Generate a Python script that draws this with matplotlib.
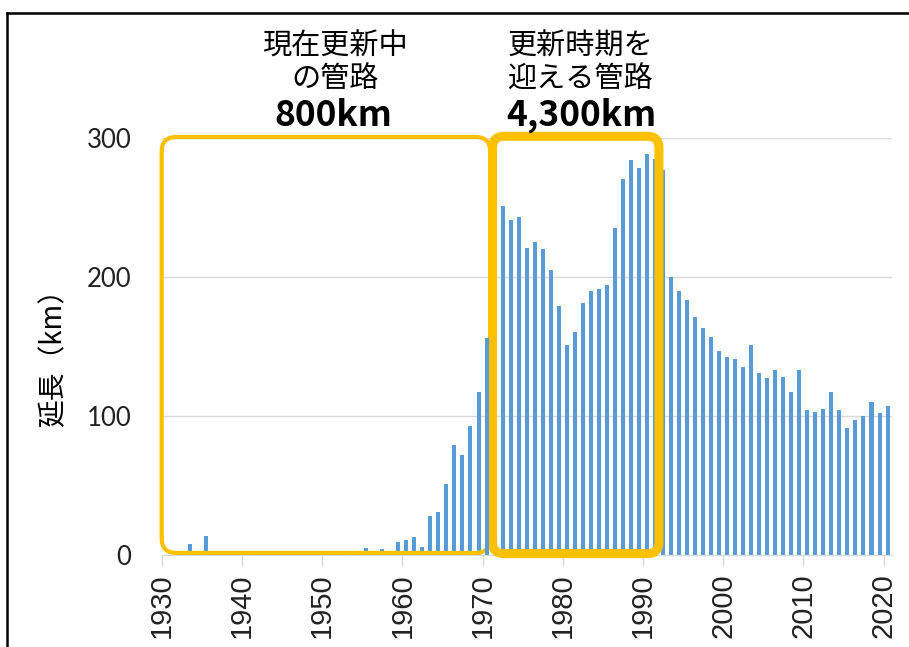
import matplotlib.pyplot as plt
import matplotlib.patches as patches
from matplotlib.lines import Line2D
import numpy as np

plt.rcParams['font.family'] = ['Noto Sans CJK JP', 'DejaVu Sans']

# pipe length installed per year (km)
years = np.arange(1930, 2021)
lengths = [
    0, 0, 0, 8, 0, 14, 0, 0, 0, 0,            # 1930-1939
    0, 0, 0, 0, 0, 0, 0, 0, 0, 0,             # 1940-1949
    0, 0, 0, 1, 0, 5, 1.5, 4, 1, 9,           # 1950-1959
    11, 13, 6, 28, 31, 51, 79, 72, 93, 117,   # 1960-1969
    156, 190, 251, 241, 243, 221, 225, 220, 205, 179,  # 1970-1979
    151, 160, 181, 190, 191, 194, 235, 270, 284, 278,  # 1980-1989
    288, 285, 277, 200, 190, 183, 171, 163, 157, 147,  # 1990-1999
    142, 141, 135, 151, 131, 127, 133, 128, 117, 133,  # 2000-2009
    104, 103, 105, 117, 104, 91, 97, 100, 110, 102,    # 2010-2019
    107,                                               # 2020
]
xticks = list(range(1930, 2021, 10))
yticks = [0, 100, 200, 300]

# highlighted periods (year span)
left_span = (1930, 1970.95)
right_span = (1971.25, 1992.0)

fig = plt.figure(figsize=(9.09, 6.47), dpi=100)
ax = fig.add_axes([0.1779, 0.1422, 0.8029, 0.645])

ax.bar(years + 0.5, lengths, width=0.5, color='#5B9BD5', zorder=2)

ax.set_xlim(1930, 2021)
ax.set_ylim(0, 300)
ax.set_xticks(xticks)
ax.set_xticklabels([str(t) for t in xticks], rotation=90,
                   fontsize=21, family='Liberation Sans', color='#222222')
ax.set_yticks(yticks)
ax.set_yticklabels([str(t) for t in yticks], fontsize=18.5, family='Lato',
                   color='#222222')
ax.tick_params(axis='y', length=0, pad=22)
ax.tick_params(axis='x', length=8, width=1, color='#D9D9D9', pad=5)
ax.grid(axis='y', color='#D9D9D9', lw=1, zorder=0)
for s in ['left', 'right', 'top']:
    ax.spines[s].set_visible(False)
ax.spines['bottom'].set_color('#D9D9D9')

ax.set_ylabel('延長（km）', fontsize=20)
ax.yaxis.set_label_coords(-0.128, 0.49)

# yellow rounded boxes
aspect = 8.02 / 1.39
box1 = patches.FancyBboxPatch((left_span[0], 1.5), left_span[1] - left_span[0], 299,
                              boxstyle='round,pad=0,rounding_size=1.8',
                              mutation_aspect=aspect, fill=False,
                              edgecolor='#FFC000', lw=3, clip_on=False, zorder=3)
box2 = patches.FancyBboxPatch((right_span[0], 1), right_span[1] - right_span[0], 300,
                              boxstyle='round,pad=0,rounding_size=1.4',
                              mutation_aspect=aspect, fill=False,
                              edgecolor='#FFC000', lw=6.5, clip_on=False, zorder=3)
ax.add_patch(box1)
ax.add_patch(box2)
# the 1970 bar sits in front of the left box edge
ax.bar([1970.5], [lengths[40]], width=0.5, color='#5B9BD5', zorder=3.5)

# annotations above the boxes
fig.text(335 / 909, 1 - 63 / 647, '現在更新中\nの管路', ha='center', va='center',
         fontsize=21, linespacing=1.12)
fig.text(333 / 909, 1 - 115 / 647, '800km', ha='center', va='center',
         fontsize=25.5, fontweight='bold')
fig.text(580 / 909, 1 - 63 / 647, '更新時期を\n迎える管路', ha='center', va='center',
         fontsize=21, linespacing=1.12)
fig.text(581 / 909, 1 - 115 / 647, '4,300km', ha='center', va='center',
         fontsize=25.5, fontweight='bold')

# outer frame
fig.add_artist(Line2D([7 / 909, 7 / 909], [0, 1 - 13 / 647], color='black', lw=1.8))
fig.add_artist(Line2D([7 / 909, 1], [1 - 13 / 647, 1 - 13 / 647], color='black', lw=1.8))

fig.savefig('out.png', dpi=100)
